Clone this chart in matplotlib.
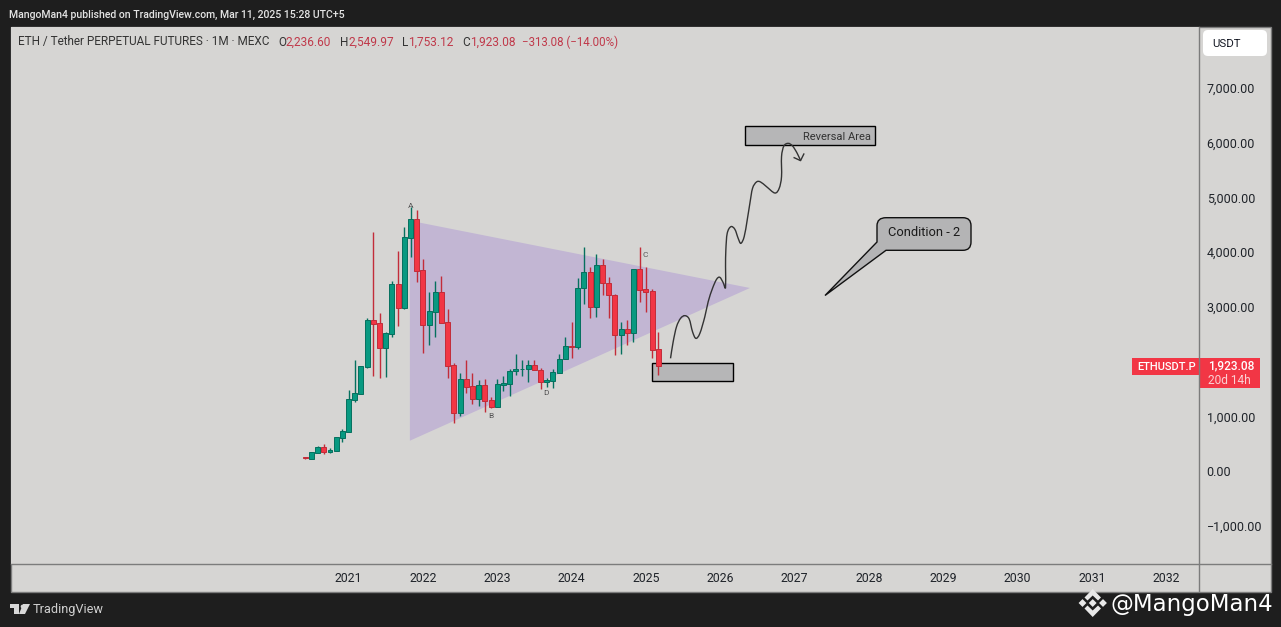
import matplotlib
matplotlib.use("Agg")
import matplotlib.pyplot as plt
from matplotlib.patches import Rectangle, Polygon, FancyBboxPatch, PathPatch
from matplotlib.path import Path

# monthly candles, first one is Jun 2020 (index 0)
opens = [250, 226, 335, 433, 354, 372, 610, 720, 1304, 1414, 1908, 2754, 2700, 2255, 2511, 3412, 2986, 4266, 4601,
         3668, 2675, 2913, 3266, 2718, 1932, 1067, 1676, 1548, 1323, 1566, 1292,
         1177, 1579, 1597, 1823, 1859, 1859, 1932, 1841, 1634, 1652, 1798, 2042,
         2280, 2274, 3340, 3632, 3005, 3760, 3431, 3212, 2493, 2590, 2517, 3687,
         3321, 3285, 2236.6]
highs = [256, 342, 457, 494, 421, 616, 768, 1481, 2029, 1914, 2797, 4369, 2888, 2541, 3473, 4022, 4454, 4832, 4771,
         3869, 3266, 3473, 3565, 2962, 1968, 1792, 2029, 1792, 1664, 1682, 1359,
         1682, 1737, 1859, 2133, 2024, 2024, 2024, 1877, 1695, 1859, 2133, 2444,
         2718, 3522, 4089, 3724, 3967, 3876, 3541, 3230, 2718, 2761, 3687, 4089,
         3724, 3321, 2549.97]
lows = [214, 226, 335, 311, 329, 372, 530, 720, 1262, 1414, 1889, 1743, 1706, 1725, 2456, 2657, 2962, 3918, 3461,
        2163, 2310, 2456, 2712, 1706, 884, 1012, 1432, 1231, 1188, 1085, 1158,
        1177, 1463, 1378, 1756, 1743, 1634, 1841, 1506, 1542, 1524, 1798, 2042,
        2072, 2237, 3059, 2804, 2822, 3224, 2804, 2127, 2145, 2304, 2365, 3096,
        2913, 2072, 1753.12]
closes = [232, 342, 433, 354, 386, 616, 725, 1310, 1420, 1914, 2754, 2694, 2255, 2517, 3412, 2986, 4272, 4601, 3662,
          2675, 2919, 3266, 2712, 1926, 1067, 1676, 1542, 1323, 1566, 1286, 1176,
          1585, 1603, 1823, 1859, 1865, 1932, 1841, 1634, 1658, 1804, 2042, 2280,
          2267, 3340, 3632, 3005, 3760, 3431, 3212, 2493, 2590, 2517, 3687, 3315,
          3279, 2219, 1923.08]

year_labels = ["2021", "2022", "2023", "2024", "2025", "2026", "2027", "2028", "2029", "2030", "2031", "2032"]
year_index = [7, 19, 31, 43, 55, 67, 79, 91, 103, 115, 127, 139]
price_ticks = [-1000, 0, 1000, 2000, 3000, 4000, 5000, 6000, 7000]

# drawings on the chart, (month index, price)
triangle = [(16.9, 4576), (71.8, 3346), (16.9, 554)]
path_x = [58.98, 59.41, 59.95, 60.6, 61.29, 61.99, 62.53, 63.07, 63.72, 64.52, 65.06, 65.76, 66.41, 66.94, 67.48,
          67.86, 67.86, 67.91, 68.13, 68.72, 69.37, 69.9, 70.33, 70.87, 71.36, 71.79, 72.22, 72.86, 73.51, 74.48,
          75.82, 76.52, 76.9, 76.9, 77.28, 77.98, 78.68, 79.43, 79.97]
path_y = [2060, 2365, 2639, 2791, 2840, 2779, 2547, 2425, 2517, 2822, 3096, 3340, 3504, 3541, 3443,
          3352, 3734, 4040, 4345, 4467, 4418, 4254, 4162, 4284, 4589, 4893, 5168, 5284, 5284, 5198,
          5082, 5168, 5381, 5747, 5942, 5990, 5942, 5808, 5674]
arrow_x = [78.94, 79.97, 80.5]
arrow_y = [5728, 5674, 5795]
reversal_box = (71.03, 5954, 20.99, 347)
support_box = (56.02, 1639, 12.97, 329)
pattern_labels = [("A", 17, 4845), ("B", 30, 1005), ("D", 38.8, 1420), ("C", 54.9, 3949)]

W, H = 1281, 627
BG = "#1e1e1e"
PANEL = "#d6d5d3"
BORDER = "#7c7c7c"
GREEN = "#089981"
GREEN_EDGE = "#05705e"
RED = "#f23645"
RED_EDGE = "#c22c39"
TXT = "#1f2329"
PINK = "#c0394a"
FONT = "Roboto"

plt.rcParams["font.family"] = FONT


# rounds the hand drawn line, goes through every point
def smooth_path(xs, ys):
    verts = [(xs[0], ys[0])]
    codes = [Path.MOVETO]
    n = len(xs)
    for k in range(n - 1):
        x0, y0 = xs[max(k - 1, 0)], ys[max(k - 1, 0)]
        x1, y1 = xs[k], ys[k]
        x2, y2 = xs[k + 1], ys[k + 1]
        x3, y3 = xs[min(k + 2, n - 1)], ys[min(k + 2, n - 1)]
        verts += [(x1 + (x2 - x0) / 6, y1 + (y2 - y0) / 6), (x2 - (x3 - x1) / 6, y2 - (y3 - y1) / 6), (x2, y2)]
        codes += [Path.CURVE4] * 3
    return Path(verts, codes)


fig = plt.figure(figsize=(W / 100, H / 100), dpi=100, facecolor=BG)

# panel behind plot and both axis strips
back = fig.add_axes([0, 0, 1, 1], facecolor="none")
back.set_xlim(0, W)
back.set_ylim(H, 0)
back.axis("off")
back.add_patch(Rectangle((10.5, 26.5), 1260, 565, facecolor=PANEL, edgecolor=BORDER, lw=1))

L, R, T, B = 11, 1199, 27, 564
ax = fig.add_axes([L / W, 1 - B / H, (R - L) / W, (B - T) / H], facecolor=PANEL)
ax.set_xlim(-47.5, 144.3)
ax.set_ylim(-1700, 8117)

ax.add_patch(Polygon(triangle, closed=True, facecolor="#c2b6d3", edgecolor="none", zorder=1))

for box in [reversal_box, support_box]:
    ax.add_patch(Rectangle(box[:2], box[2], box[3], facecolor="#b6b6b7", edgecolor="black", lw=1, zorder=1.5))
ax.text(91.4, 6110, "Reversal Area", fontsize=8, color="#333333", ha="right", va="center", zorder=5)

for i in range(len(opens)):
    up = closes[i] >= opens[i]
    face = GREEN if up else RED
    edge = GREEN_EDGE if up else RED_EDGE
    ax.vlines(i, lows[i], highs[i], color=edge, lw=1, zorder=2)
    ax.bar(i, abs(closes[i] - opens[i]), bottom=min(opens[i], closes[i]), width=0.8,
           color=face, edgecolor=edge, linewidth=0.7, zorder=3)

ax.add_patch(PathPatch(smooth_path(path_x, path_y), facecolor="none", edgecolor="#333333", lw=1, zorder=4))
ax.plot(arrow_x, arrow_y, color="#333333", lw=1, zorder=4)

for name, x, y in pattern_labels:
    ax.text(x, y, name, fontsize=6, color="#555555", ha="center", va="center", zorder=5)

ax.set_xticks(year_index, year_labels)
ax.set_yticks(price_ticks, [f"{p:,.2f}".replace("-", "\u2212") for p in price_ticks])
ax.yaxis.tick_right()
ax.tick_params(axis="x", length=0, pad=6, labelsize=8.8, labelcolor=TXT)
ax.tick_params(axis="y", length=0, pad=5.5, labelsize=9, labelcolor=TXT)
for s in ax.spines.values():
    s.set_visible(False)

# everything around the plot is placed in pixels
ov = fig.add_axes([0, 0, 1, 1], facecolor="none")
ov.set_xlim(0, W)
ov.set_ylim(H, 0)
ov.axis("off")

ov.plot([10.5, 1270.5], [564, 564], color=BORDER, lw=1)
ov.plot([1199, 1199], [27, 591], color=BORDER, lw=1)

ov.text(9, 15, "MangoMan4 published on TradingView.com, Mar 11, 2025 15:28 UTC+5", color="#e4e4e4",
        fontsize=7.6, va="center", fontweight="medium")

# legend line
ov.text(18, 42, "ETH / Tether PERPETUAL FUTURES \u00b7 1M \u00b7 MEXC", color="#333333", fontsize=8.5, va="center")
ohlc = [(278, "O", "2,236.60"), (340, "H", "2,549.97"), (402, "L", "1,753.12"), (462, "C", "1,923.08")]
for x, k, v in ohlc:
    t = ov.text(x, 42, k, color="#333333", fontsize=8.5, va="center")
    ov.annotate(v, xy=(1, 0.5), xycoords=t, color=PINK, fontsize=8.6, va="center")
ov.text(522, 42, "\u2212313.08 (\u221214.00%)", color=PINK, fontsize=8.3, va="center")

# unit button
ov.add_patch(FancyBboxPatch((1203, 30), 64, 26, boxstyle="round,pad=0,rounding_size=5", facecolor="white", edgecolor="none"))
ov.text(1212, 44, "USDT", color="#131722", fontsize=8.2, va="center")

# last price labels
ov.add_patch(Rectangle((1132, 358), 67, 17, facecolor=RED, edgecolor="none"))
ov.add_patch(Rectangle((1200, 358), 60, 30, facecolor=RED, edgecolor="none"))
ov.text(1137, 367, "ETHUSDT.P", color="white", fontsize=8, va="center", fontweight="medium")
ov.text(1208, 366, "1,923.08", color="white", fontsize=8.6, va="center", fontweight="medium")
ov.text(1208, 380, "20d 14h", color="#fbd0d4", fontsize=8.6, va="center")

# condition callout
verts = [(886, 217.7), (963, 217.7), (971, 217.7), (971, 225.7), (971, 242), (971, 250.3), (963, 250.3), (886, 250.3),
         (825, 295.5), (877, 242), (877, 225.7), (877, 217.7), (886, 217.7), (886, 217.7)]
codes = [Path.MOVETO, Path.LINETO, Path.CURVE3, Path.CURVE3, Path.LINETO, Path.CURVE3, Path.CURVE3, Path.LINETO,
         Path.LINETO, Path.LINETO, Path.LINETO, Path.CURVE3, Path.CURVE3, Path.CLOSEPOLY]
ov.add_patch(PathPatch(Path(verts, codes), facecolor="#b4b4b5", edgecolor="#111111", lw=1))
ov.text(924.5, 233, "Condition - 2", color="#1a1a1a", fontsize=9.3, ha="center", va="center")

# TradingView logo
LOGO = "#d8d8d8"
ov.add_patch(Polygon([(10, 604), (19, 604), (19, 614), (14, 614), (14, 608), (10, 608)], facecolor=LOGO, edgecolor="none"))
ov.add_patch(Polygon([(23, 604), (30, 604), (25, 614), (19, 614)], facecolor=LOGO, edgecolor="none"))
ov.scatter([21.5], [606], s=7, color=LOGO, linewidths=0)
ov.text(33, 609.5, "TradingView", color="#d0d0d0", fontsize=9.2, va="center")

# watermark, binance mark then handle
MARK = "#e8e8e8"
ov.add_patch(Polygon([(1092.7, 589), (1101, 597.5), (1098, 600.5), (1092.7, 595.5), (1087.5, 600.5), (1084.5, 597.5)],
                     facecolor=MARK, edgecolor="none"))
ov.add_patch(Polygon([(1092.7, 617), (1101, 608.5), (1098, 605.5), (1092.7, 610.5), (1087.5, 605.5), (1084.5, 608.5)],
                     facecolor=MARK, edgecolor="none"))
ov.scatter([1082.5, 1092.7, 1103], [603, 603, 603], marker="D", s=[16, 16, 16], color=MARK, linewidths=0)
ov.text(1111, 604, "@MangoMan4", color="white", fontsize=16.5, va="center", family="DejaVu Sans")

fig.savefig("out.png", dpi=100, facecolor=BG)
